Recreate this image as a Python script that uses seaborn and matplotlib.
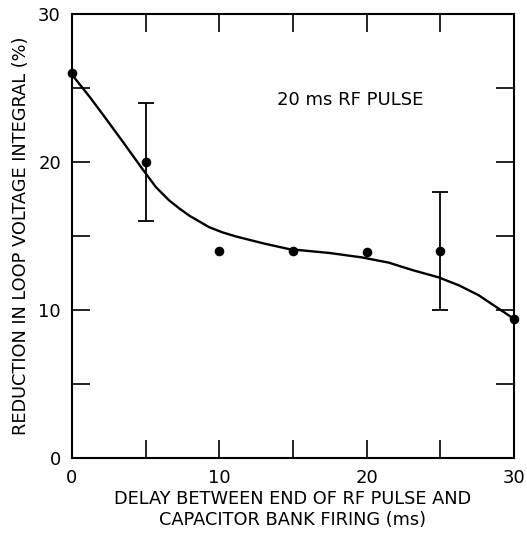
import numpy as np
import pandas as pd
import seaborn as sns
import matplotlib.pyplot as plt

# measured points
delay_ms = [0, 5, 10, 15, 20, 25, 30]
reduction_pct = [26.0, 20.0, 14.0, 14.0, 13.9, 14.0, 9.4]

# error bars (only two points carry them)
err_delay = [5, 25]
err_value = [20.0, 14.0]
err_low = [16.0, 10.0]
err_high = [24.0, 18.0]

# hand-drawn smooth fit
curve_x = [0.0, 1.2, 2.1, 3.5, 4.8, 5.7, 6.6, 7.3, 8.0, 8.7, 9.3, 10.2, 11.2, 13.0, 14.8,
           15.4, 17.5, 19.7, 21.5, 23.1, 24.9, 26.3, 27.6, 28.8, 30.0]
curve_y = [25.9, 24.4, 23.2, 21.3, 19.5, 18.3, 17.4, 16.85, 16.35, 15.95, 15.6, 15.25, 14.95, 14.5, 14.1,
           14.05, 13.85, 13.55, 13.2, 12.7, 12.2, 11.65, 11.0, 10.2, 9.4]

x_tick_labels = ['0', '', '10', '', '20', '', '30']
y_tick_labels = ['0', '', '10', '', '20', '', '30']

sns.set_style('ticks')
plt.rcParams['font.family'] = ['DejaVu Sans']
plt.rcParams['text.color'] = 'black'
plt.rcParams['axes.labelcolor'] = 'black'
plt.rcParams['xtick.color'] = 'black'
plt.rcParams['ytick.color'] = 'black'

fig = plt.figure(figsize=(5.27, 5.34), dpi=100)
ax = fig.add_axes([0.1366, 0.1423, 0.8387, 0.8315])

curve_df = pd.DataFrame({'delay': curve_x, 'reduction': curve_y})
points_df = pd.DataFrame({'delay': delay_ms, 'reduction': reduction_pct})

sns.lineplot(data=curve_df, x='delay', y='reduction', color='black',
             linewidth=1.7, sort=False, ax=ax)
ax.errorbar(err_delay, err_value,
            yerr=[np.subtract(err_value, err_low), np.subtract(err_high, err_value)],
            fmt='none', ecolor='black', elinewidth=1.3, capsize=6, capthick=1.3)
sns.scatterplot(data=points_df, x='delay', y='reduction', color='black',
                s=48, edgecolor='black', linewidth=0, zorder=5, clip_on=False, ax=ax)

ax.set_xlim(0, 30)
ax.set_ylim(0, 30)
ax.set_xticks(range(0, 31, 5))
ax.set_xticklabels(x_tick_labels)
ax.set_yticks(range(0, 31, 5))
ax.set_yticklabels(y_tick_labels)
ax.tick_params(direction='in', length=13, width=1.2, top=True, right=True,
               labelsize=13, pad=8)

for side in ax.spines.values():
    side.set_linewidth(1.5)
    side.set_color('black')

ax.set_xlabel('DELAY BETWEEN END OF RF PULSE AND\nCAPACITOR BANK FIRING (ms)',
              fontsize=12.8, labelpad=2, linespacing=1.25)
ax.set_ylabel('REDUCTION IN LOOP VOLTAGE INTEGRAL (%)', fontsize=12.8, labelpad=6)

ax.text(13.9, 24.2, '20 ms RF PULSE', fontsize=13, va='center', ha='left')

fig.savefig('out.png', dpi=100)
